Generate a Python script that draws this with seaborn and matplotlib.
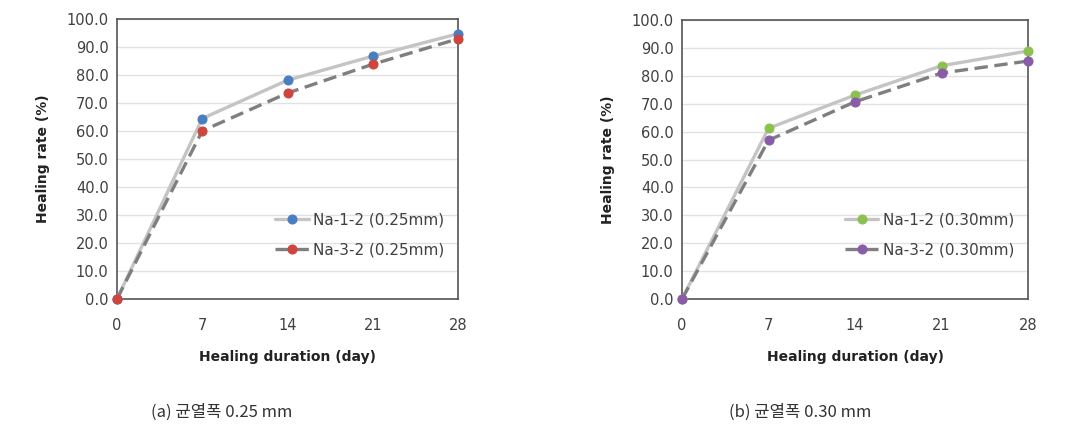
import matplotlib

matplotlib.use("Agg")
import matplotlib.pyplot as plt
import pandas as pd
import seaborn as sns

# Data
days = [0, 7, 14, 21, 28]

na12_025 = [0.0, 64.5, 78.2, 86.8, 94.8]
na32_025 = [0.0, 60.1, 73.6, 83.9, 93.0]

na12_030 = [0.0, 61.2, 73.1, 83.6, 88.9]
na32_030 = [0.0, 56.9, 70.7, 81.0, 85.3]

panels = [
    ("0.25mm", na12_025, na32_025, "#4A7EC2", "#D0443E", "(a) 균열폭 0.25 mm", 0.207),
    ("0.30mm", na12_030, na32_030, "#8CC152", "#8A5BA8", "(b) 균열폭 0.30 mm", 0.746),
]

sns.set_style("white")
plt.rcParams["font.family"] = ["DejaVu Sans", "Noto Sans CJK KR"]

fig = plt.figure(figsize=(10.73, 4.26), dpi=100)
axes = [
    fig.add_axes([0.109, 0.298, 0.318, 0.657]),
    fig.add_axes([0.6356, 0.298, 0.3225, 0.655]),
]

TEXT_COLOR = "#404040"

for ax, (width, s1, s2, c1, c2, caption, cap_x) in zip(axes, panels):
    df = pd.DataFrame({"day": days, "s1": s1, "s2": s2})

    sns.lineplot(
        data=df, x="day", y="s1", ax=ax,
        color="#C4C4C4", linewidth=2.4, marker="o", markersize=6.5,
        markerfacecolor=c1, markeredgecolor=c1,
        label=f"Na-1-2 ({width})", zorder=3,
    )
    sns.lineplot(
        data=df, x="day", y="s2", ax=ax,
        color="#7F7F7F", linewidth=2.4, linestyle=(0, (4, 2)),
        marker="o", markersize=6.5,
        markerfacecolor=c2, markeredgecolor=c2,
        label=f"Na-3-2 ({width})", zorder=4,
    )

    ax.set_xlim(0, 28)
    ax.set_ylim(0, 100)
    ax.set_xticks(days)
    ax.set_yticks(range(0, 101, 10))
    ax.set_yticklabels([f"{v:.1f}" for v in range(0, 101, 10)])
    ax.tick_params(axis="both", length=0, labelsize=10.5, colors=TEXT_COLOR)
    ax.tick_params(axis="x", pad=14)
    ax.tick_params(axis="y", pad=6)

    ax.grid(axis="y", color="#E2E2E2", linewidth=1)
    ax.set_axisbelow(True)
    for spine in ax.spines.values():
        spine.set_color("#555555")
        spine.set_linewidth(1.2)

    ax.set_xlabel("Healing duration (day)", fontsize=10, fontweight="bold",
                  color="#222222", labelpad=12)
    ax.set_ylabel("Healing rate (%)", fontsize=10, fontweight="bold",
                  color="#222222", labelpad=12)

    for line in ax.lines:
        line.set_clip_on(False)

    ax.legend(loc="lower right", bbox_to_anchor=(1.0, 0.1), frameon=False,
              fontsize=11, labelcolor=TEXT_COLOR, handlelength=2.2,
              handletextpad=0.3, labelspacing=1.0)

    fig.text(cap_x, 0.033, caption, ha="center", va="center",
             fontsize=12, color="#333333",
             family=["Noto Sans CJK KR", "DejaVu Sans"])

fig.savefig("out.png", dpi=100)
